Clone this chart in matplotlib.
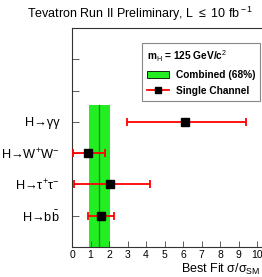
import numpy as np
import matplotlib
matplotlib.use('Agg')
import matplotlib.pyplot as plt
from matplotlib.patches import Patch
from matplotlib.lines import Line2D

plt.rcParams['font.family'] = ['Liberation Sans', 'DejaVu Sans']
plt.rcParams['mathtext.fontset'] = 'custom'
plt.rcParams['mathtext.rm'] = 'Liberation Sans'
plt.rcParams['mathtext.it'] = 'Liberation Sans'
plt.rcParams['mathtext.bf'] = 'Liberation Sans:bold'

# channels, bottom to top
channels = ['H→b$\\bar{\\rm b}$', 'H→τ$^{+}$τ$^{-}$',
            'H→W$^{+}$W$^{-}$', 'H→γγ']
best_fit = [1.58, 2.07, 0.87, 6.12]
err_lo = [0.72, 1.98, 0.80, 3.15]
err_hi = [0.70, 2.15, 0.91, 3.28]

# combined result
comb_fit = 1.46
comb_lo = 0.56
comb_hi = 0.59

fig = plt.figure(figsize=(2.62, 2.77), dpi=100)
ax = fig.add_axes([72/262, 30/277, 190/262, 219/277])

ypos = np.arange(1, len(channels) + 1)

ax.fill_between([comb_fit - comb_lo, comb_fit + comb_hi], 0, 4.55,
                color='#22ee22', linewidth=0, zorder=1)
ax.plot([comb_fit, comb_fit], [0, 4.55], color='#118811', lw=0.9, zorder=2)

ax.errorbar(best_fit, ypos, xerr=[err_lo, err_hi], fmt='s', color='red',
            ecolor='red', elinewidth=1.3, capsize=3, capthick=1.3,
            markerfacecolor='black', markeredgecolor='black', markersize=6, zorder=3)

ax.set_xlim(0, 10.27)
ax.set_ylim(0, 7)
ax.set_xticks(range(0, 11))
ax.set_xticklabels([str(i) for i in range(0, 11)], fontsize=7.5)
ax.set_yticks(range(1, 7))
ax.set_yticklabels(channels + ['', ''], fontsize=9.2)
ax.tick_params(axis='both', direction='in', length=4, width=0.6, color='#444444', pad=2)
ax.tick_params(axis='y', length=5, pad=9)
ax.spines['right'].set_visible(False)
for s in ['left', 'bottom', 'top']:
    ax.spines[s].set_linewidth(0.8)
    ax.spines[s].set_color('#333333')

fig.text(0.995, 0.0, r'Best Fit $\sigma/\sigma_{\rm SM}$', ha='right', va='bottom', fontsize=9)
fig.text(0.535, 0.95, r'Tevatron Run II Preliminary, L $\leq$ 10 fb$^{\rm -1}$',
         ha='center', va='center', fontsize=9)

handles = [Patch(facecolor='#22ee22', edgecolor='black', linewidth=0.6),
           Line2D([0], [0], color='red', lw=1.3, marker='s', markersize=5,
                  markerfacecolor='black', markeredgecolor='black')]
leg = ax.legend(handles, ['Combined (68%)', 'Single Channel'],
                title=r'm$_{\rm H}$ = 125 GeV/c$^{2}$', alignment='left',
                loc='upper left', bbox_to_anchor=(137/262, 1 - 38/277),
                bbox_transform=fig.transFigure, fancybox=False, framealpha=1,
                edgecolor='#888888', title_fontsize=7.3,
                prop={'weight': 'bold', 'size': 7.3}, handlelength=2.2,
                borderpad=0.5, labelspacing=0.6, handletextpad=0.6)
leg.get_title().set_fontweight('bold')
leg.get_frame().set_linewidth(0.8)

fig.savefig('out.png', dpi=100)
